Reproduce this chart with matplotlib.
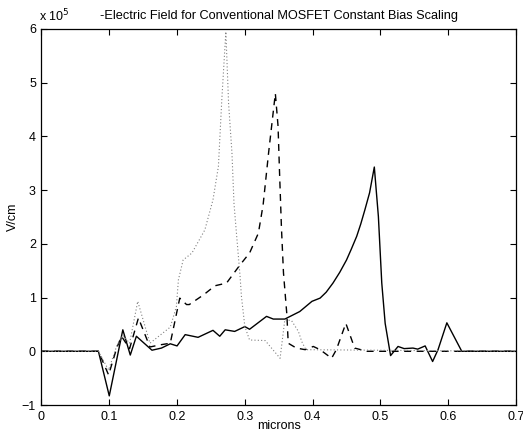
import matplotlib
matplotlib.use("Agg")
import matplotlib.pyplot as plt

plt.rcParams['font.family'] = ['Liberation Sans', 'DejaVu Sans']

# Electric field along channel, units of 1e5 V/cm
x_solid = [0, 0.084, 0.1, 0.12, 0.131, 0.14, 0.163, 0.177, 0.19, 0.2, 0.212, 0.231,
           0.253, 0.263, 0.271, 0.285, 0.3, 0.307, 0.332, 0.342, 0.359, 0.381, 0.399,
           0.411, 0.42, 0.43, 0.44, 0.45, 0.457, 0.465, 0.471, 0.477, 0.484, 0.491,
           0.497, 0.502, 0.507, 0.515, 0.526, 0.535, 0.548, 0.555, 0.566, 0.577,
           0.585, 0.598, 0.62, 0.7]
y_solid = [0, 0, -0.83, 0.40, -0.07, 0.28, 0.02, 0.06, 0.14, 0.10, 0.31, 0.26,
           0.39, 0.28, 0.40, 0.37, 0.46, 0.41, 0.65, 0.60, 0.60, 0.74, 0.93,
           0.99, 1.10, 1.27, 1.47, 1.70, 1.90, 2.14, 2.37, 2.63, 2.95, 3.43,
           2.51, 1.27, 0.52, -0.08, 0.09, 0.05, 0.06, 0.04, 0.10, -0.19,
           0.03, 0.53, 0, 0]

x_dash = [0, 0.084, 0.099, 0.111, 0.118, 0.13, 0.143, 0.16, 0.175, 0.19, 0.204,
          0.214, 0.218, 0.239, 0.256, 0.273, 0.293, 0.307, 0.32, 0.327, 0.335,
          0.345, 0.349, 0.351, 0.354, 0.357, 0.362, 0.364, 0.376, 0.389, 0.401,
          0.411, 0.428, 0.435, 0.449, 0.462, 0.48, 0.7]
y_dash = [0, 0, -0.44, 0.06, 0.28, 0.05, 0.62, 0.08, 0.12, 0.15, 0.99,
          0.87, 0.87, 1.05, 1.22, 1.27, 1.61, 1.83, 2.20, 2.73, 3.69,
          4.80, 4.19, 3.40, 2.30, 1.46, 0.68, 0.15, 0.06, 0.03, 0.09,
          0.03, -0.13, 0.03, 0.52, 0.06, 0, 0]

x_dot = [0, 0.084, 0.099, 0.111, 0.12, 0.13, 0.142, 0.16, 0.175, 0.19, 0.199,
         0.202, 0.209, 0.222, 0.241, 0.253, 0.261, 0.266, 0.272, 0.276, 0.281,
         0.284, 0.288, 0.293, 0.295, 0.3, 0.307, 0.33, 0.352, 0.359, 0.369,
         0.379, 0.384, 0.39, 0.7]
y_dot = [0, 0, -0.35, 0.10, 0.30, 0.15, 0.93, 0.15, 0.30, 0.45, 0.83,
         1.33, 1.70, 1.83, 2.26, 2.82, 3.44, 4.68, 5.95, 4.62, 3.69,
         2.75, 2.14, 1.39, 1.02, 0.46, 0.21, 0.20, -0.13, 0.59, 0.57,
         0.37, 0.18, 0.03, 0]

x_ticks = [0, 0.1, 0.2, 0.3, 0.4, 0.5, 0.6, 0.7]
x_ticklabels = ['0', '0.1', '0.2', '0.3', '0.4', '0.5', '0.6', '0.7']
y_ticks = [-1, 0, 1, 2, 3, 4, 5, 6]

fig = plt.figure(figsize=(5.23, 4.34), dpi=100)
ax = fig.add_axes([0.0793, 0.0668, 0.9073, 0.8664])

ax.plot(x_solid, y_solid, color='black', linewidth=1.0)
ax.plot(x_dash, y_dash, color='black', linewidth=1.0, linestyle=(0, (5, 4)))
ax.plot(x_dot, y_dot, color='0.5', linewidth=0.8, linestyle=(0, (1, 2)))

ax.set_xlim(0, 0.7)
ax.set_ylim(-1, 6)
ax.set_xticks(x_ticks)
ax.set_xticklabels(x_ticklabels)
ax.set_yticks(y_ticks)
ax.tick_params(direction='in', top=True, right=True, length=4, width=0.8,
               labelsize=9, pad=4)
for s in ax.spines.values():
    s.set_linewidth(0.9)

ax.set_title('-Electric Field for Conventional MOSFET Constant Bias Scaling',
             fontsize=9.2, pad=7)
ax.set_xlabel('microns', fontsize=9, labelpad=-2)
ax.set_ylabel('V/cm', fontsize=9, labelpad=2)
ax.text(-0.005, 1.012, r'x 10$^5$', transform=ax.transAxes, fontsize=9,
        ha='left', va='bottom')

fig.savefig('out.png', dpi=100)
